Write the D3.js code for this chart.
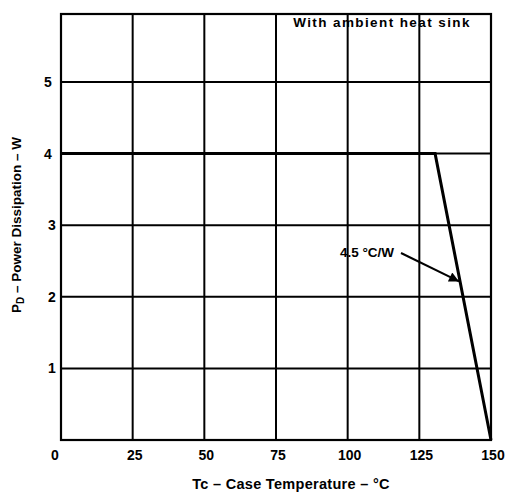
<!DOCTYPE html>
<html><head><meta charset="utf-8">
<script src="https://cdn.jsdelivr.net/npm/d3@7"></script>
<style>body{margin:0;background:#fff}text{font-family:"Liberation Sans",Arial,sans-serif;fill:#000}</style>
</head><body>
<svg id="c" width="505" height="496"></svg>
<script>
const xTicks = [0, 25, 50, 75, 100, 125, 150];
const yTicks = [1, 2, 3, 4, 5];
const curveT = [0, 130.5, 150];
const curveP = [4, 4, 0];
const annotation = "4.5 °C/W";
const note = "With ambient heat sink";

const svg = d3.select("#c");
const L = 61, R = 491, T = 14, B = 440;
const x = d3.scaleLinear().domain([0, 150]).range([L, R]);
const y = d3.scaleLinear().domain([0, 5.95]).range([B, T]);

// grid
svg.append("g").selectAll("line").data(xTicks.slice(1, -1)).join("line")
  .attr("x1", d => x(d)).attr("x2", d => x(d)).attr("y1", T).attr("y2", B)
  .attr("stroke", "#000").attr("stroke-width", 2);
svg.append("g").selectAll("line").data(yTicks).join("line")
  .attr("x1", L).attr("x2", R).attr("y1", d => y(d)).attr("y2", d => y(d))
  .attr("stroke", "#000").attr("stroke-width", 2);
// frame
svg.append("rect").attr("x", L).attr("y", T).attr("width", R - L).attr("height", B - T)
  .attr("fill", "none").attr("stroke", "#000").attr("stroke-width", 2.2);

// curve
const pts = curveT.map((t, i) => [t, curveP[i]]);
svg.append("path").datum(pts)
  .attr("d", d3.line().x(d => x(d[0])).y(d => y(d[1])))
  .attr("fill", "none").attr("stroke", "#000").attr("stroke-width", 3).attr("stroke-linejoin", "miter");

// tick labels
svg.append("g").selectAll("text").data(yTicks).join("text")
  .attr("x", d => d >= 4 ? 48 : 52).attr("y", d => y(d)).attr("dy", "0.36em")
  .attr("text-anchor", "middle").attr("font-size", 14).attr("font-weight", "bold").text(d => d);
svg.append("g").selectAll("text").data(xTicks).join("text")
  .attr("x", d => d === 0 ? 55 : x(d) + 2).attr("y", 455).attr("dy", "0.36em")
  .attr("text-anchor", "middle").attr("font-size", 14).attr("font-weight", "bold").text(d => d);

// axis titles
svg.append("text").attr("x", 291).attr("y", 489).attr("text-anchor", "middle")
  .attr("font-size", 14.5).attr("font-weight", "bold").attr("letter-spacing", 0.3).text("Tc – Case Temperature – °C");
const yt = svg.append("text").attr("transform", "translate(21,225) rotate(-90)")
  .attr("text-anchor", "middle").attr("font-size", 13.5).attr("font-weight", "bold");
yt.append("tspan").text("P");
yt.append("tspan").attr("font-size", 10).attr("dy", 3).text("D");
yt.append("tspan").attr("dy", -3).text(" – Power Dissipation – W");

// note
svg.append("text").attr("x", 382).attr("y", 27).attr("text-anchor", "middle")
  .attr("font-size", 13.5).attr("font-weight", "bold").attr("letter-spacing", 1.4).text(note);

// annotation with arrow
svg.append("defs").append("marker").attr("id", "ah").attr("viewBox", "0 0 10 10")
  .attr("refX", 10).attr("refY", 5).attr("markerWidth", 6).attr("markerHeight", 5).attr("orient", "auto")
  .append("path").attr("d", "M0,0L10,5L0,10Z").attr("fill", "#000");
svg.append("text").attr("x", 367).attr("y", 257).attr("text-anchor", "middle")
  .attr("font-size", 13.5).attr("font-weight", "bold").text(annotation);
const tA = 139.2, pA = curveP[1] * (curveT[2] - tA) / (curveT[2] - curveT[1]);
svg.append("line").attr("x1", 401).attr("y1", 253).attr("x2", x(tA) - 1).attr("y2", y(pA))
  .attr("stroke", "#000").attr("stroke-width", 2).attr("marker-end", "url(#ah)");
</script>
</body></html>
